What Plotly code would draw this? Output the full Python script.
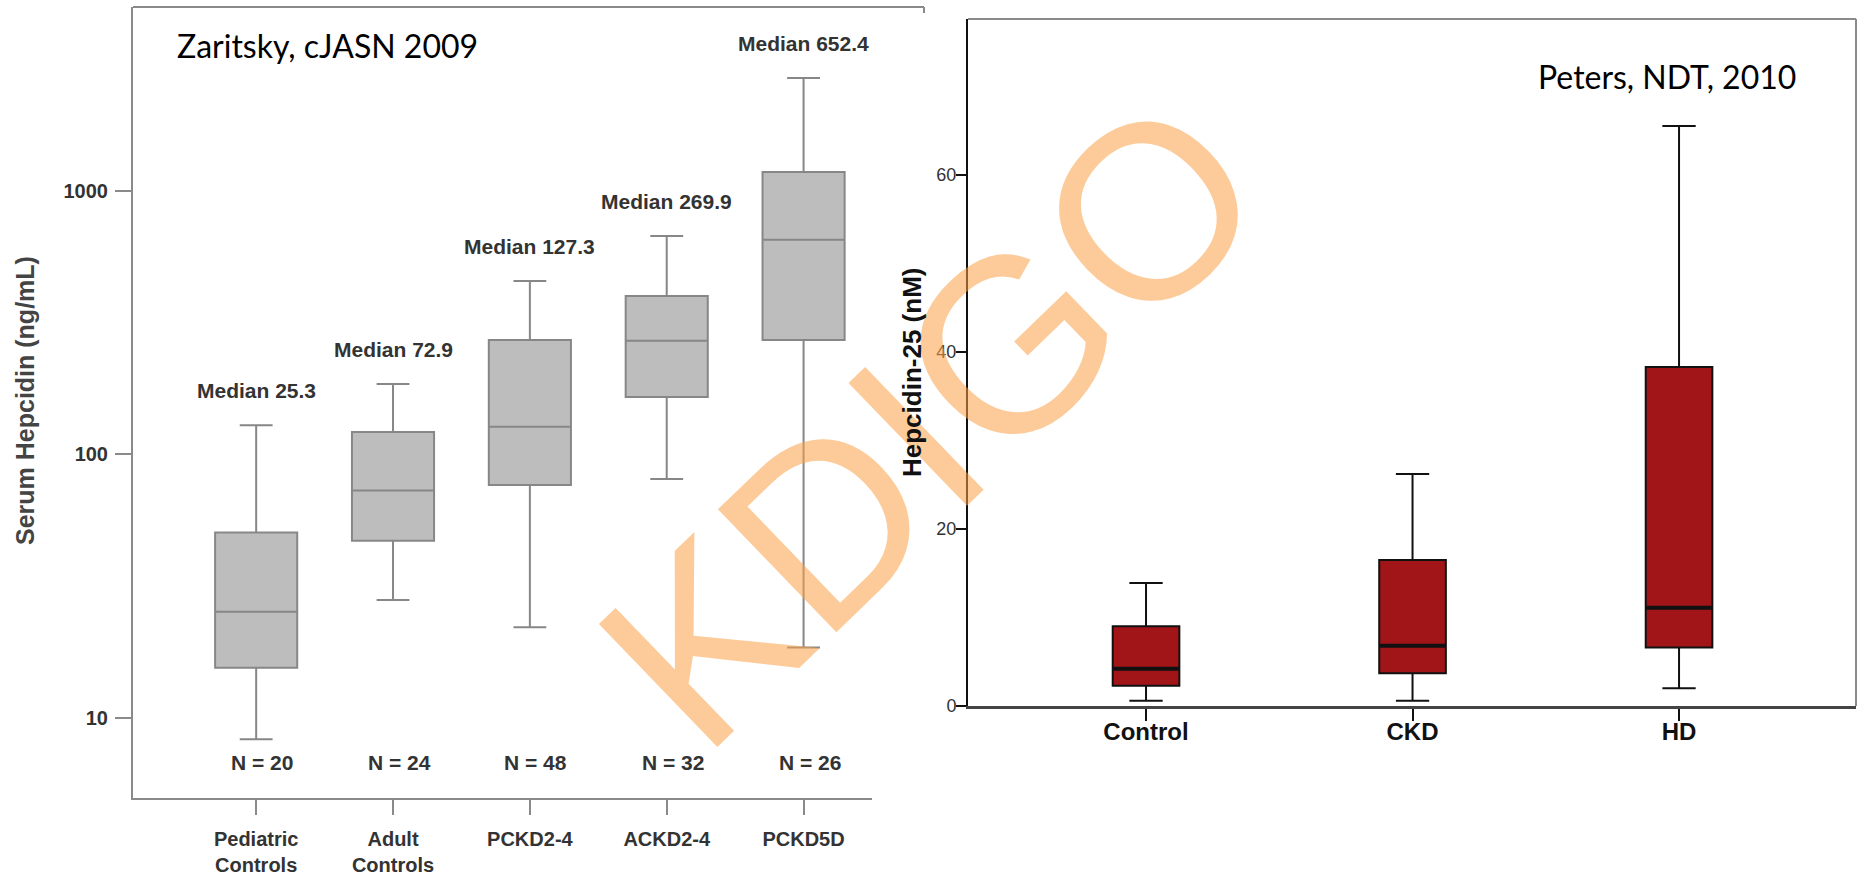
import math
import plotly.graph_objects as go

W, H = 1858, 878

# ---------------- Left panel data (Zaritsky, cJASN 2009) ----------------
z_categories = ["Pediatric<br>Controls", "Adult<br>Controls", "PCKD2-4", "ACKD2-4", "PCKD5D"]
z_lower = [8.3, 28.0, 22.1, 80.7, 18.5]
z_q1 = [15.5, 47.0, 76.6, 165.0, 272.0]
z_median = [25.3, 72.9, 127.3, 269.9, 652.4]
z_q3 = [50.5, 121.6, 272.0, 399.0, 1181.0]
z_upper = [129.0, 185.0, 455.0, 674.0, 2685.0]
z_n = [20, 24, 48, 32, 26]
z_ticks = [10, 100, 1000]

# ---------------- Right panel data (Peters, NDT, 2010) ----------------
p_categories = ["Control", "CKD", "HD"]
p_lower = [0.6, 0.6, 2.0]
p_q1 = [2.3, 3.7, 6.6]
p_median = [4.2, 6.8, 11.1]
p_q3 = [9.0, 16.5, 38.3]
p_upper = [13.9, 26.2, 65.5]
p_ticks = [0, 20, 40, 60]

FONT = "Liberation Sans, Arial, sans-serif"
TITLE_FONT = "Lato, Carlito, Calibri, sans-serif"


def px_x(v):
    return v / W


def px_y(v):
    return 1 - v / H


fig = go.Figure()

fig.add_trace(go.Box(
    x=z_categories, q1=z_q1, median=z_median, q3=z_q3,
    lowerfence=z_lower, upperfence=z_upper,
    width=0.6, whiskerwidth=0.4, boxpoints=False,
    fillcolor="#bdbdbd", line=dict(color="#878787", width=2),
    xaxis="x", yaxis="y", showlegend=False, hoverinfo="skip"))

fig.add_trace(go.Box(
    x=p_categories, q1=p_q1, median=p_median, q3=p_q3,
    lowerfence=p_lower, upperfence=p_upper,
    width=0.25, whiskerwidth=0.5, boxpoints=False,
    fillcolor="#a11519", line=dict(color="#111111", width=2),
    xaxis="x2", yaxis="y2", showlegend=False, hoverinfo="skip"))

# thick median bars for the right panel
fig.add_trace(go.Box(
    x=p_categories, q1=p_median, median=p_median, q3=p_median,
    lowerfence=p_median, upperfence=p_median,
    width=0.25, whiskerwidth=0, boxpoints=False,
    fillcolor="rgba(0,0,0,0)", line=dict(color="#111111", width=4),
    xaxis="x2", yaxis="y2", showlegend=False, hoverinfo="skip"))

fig.update_layout(
    width=W, height=H,
    margin=dict(l=0, r=0, t=0, b=0),
    paper_bgcolor="white", plot_bgcolor="rgba(0,0,0,0)",
    boxmode="overlay",
    xaxis=dict(
        domain=[px_x(133), px_x(872)], anchor="y", automargin=False,
        type="category", range=[-0.9, 4.5],
        showline=True, linecolor="#8a8a8a", linewidth=2,
        ticks="outside", ticklen=15, tickwidth=2, tickcolor="#8a8a8a",
        ticklabelstandoff=7,
        tickfont=dict(family=FONT, size=20, color="#333333", weight="bold"),
        showgrid=False, zeroline=False, fixedrange=True),
    yaxis=dict(
        domain=[px_y(798), px_y(7)], anchor="x", automargin=False,
        type="log", range=[0.696, 3.698],
        tickvals=z_ticks, ticktext=[str(t) for t in z_ticks],
        showline=True, linecolor="#8a8a8a", linewidth=2,
        ticks="outside", ticklen=16, tickwidth=2, tickcolor="#8a8a8a",
        ticklabelstandoff=3,
        tickfont=dict(family=FONT, size=20, color="#333333", weight="bold"),
        showgrid=False, zeroline=False, fixedrange=True),
    xaxis2=dict(
        domain=[px_x(968), px_x(1856)], anchor="y2", automargin=False,
        type="category", range=[-0.668, 2.664],
        showline=True, linecolor="#444444", linewidth=3,
        ticks="outside", ticklen=12, tickwidth=2, tickcolor="#111111",
        ticklabelstandoff=-10,
        tickfont=dict(family=FONT, size=24, color="#111111", weight="bold"),
        showgrid=False, zeroline=False, fixedrange=True),
    yaxis2=dict(
        domain=[px_y(706), px_y(19)], anchor="x2", automargin=False,
        range=[0, 77.6],
        tickvals=p_ticks,
        showline=True, linecolor="#111111", linewidth=2,
        ticks="outside", ticklen=10, tickwidth=2, tickcolor="#111111",
        ticklabelstandoff=-4,
        tickfont=dict(family=FONT, size=18, color="#333333"),
        showgrid=False, zeroline=False, fixedrange=True),
)

shapes = [
    # left panel top border with small corner at right
    dict(type="line", xref="paper", yref="paper", x0=px_x(133), x1=px_x(924),
         y0=px_y(7), y1=px_y(7), line=dict(color="#8a8a8a", width=2)),
    dict(type="line", xref="paper", yref="paper", x0=px_x(924), x1=px_x(924),
         y0=px_y(7), y1=px_y(13), line=dict(color="#8a8a8a", width=2)),
    # right panel top and right borders
    dict(type="line", xref="paper", yref="paper", x0=px_x(968), x1=px_x(1856),
         y0=px_y(19), y1=px_y(19), line=dict(color="#8a8a8a", width=2)),
    dict(type="line", xref="paper", yref="paper", x0=px_x(1856), x1=px_x(1856),
         y0=px_y(19), y1=px_y(706), line=dict(color="#8a8a8a", width=2)),
]

annotations = []
# watermark
annotations.append(dict(
    text="KDIGO", xref="paper", yref="paper", x=px_x(930), y=px_y(422),
    xanchor="center", yanchor="middle", showarrow=False, textangle=-44,
    font=dict(family=FONT, size=248, color="rgba(250,160,70,0.55)")))

# median labels and N labels (left)
for cat, med, up, n in zip(z_categories, z_median, z_upper, z_n):
    annotations.append(dict(
        text=f"Median {med}", x=cat, y=math.log10(up), xref="x", yref="y",
        xanchor="center", yanchor="bottom", yshift=21, showarrow=False,
        font=dict(family=FONT, size=21, color="#333333", weight="bold")))
    annotations.append(dict(
        text=f"N = {n}", x=cat, y=math.log10(6.75), xref="x", yref="y",
        xanchor="center", yanchor="middle", xshift=6, showarrow=False,
        font=dict(family=FONT, size=21, color="#333333", weight="bold")))

# axis titles
annotations.append(dict(
    text="Serum Hepcidin (ng/mL)", xref="paper", yref="paper",
    x=px_x(25), y=px_y(401), xanchor="center", yanchor="middle",
    textangle=-90, showarrow=False,
    font=dict(family=FONT, size=25, color="#444444", weight="bold")))
annotations.append(dict(
    text="Hepcidin-25 (nM)", xref="paper", yref="paper",
    x=px_x(912), y=px_y(373), xanchor="center", yanchor="middle",
    textangle=-90, showarrow=False,
    font=dict(family=FONT, size=26, color="#111111", weight="bold")))

# panel source labels
annotations.append(dict(
    text="Zaritsky, cJASN 2009", xref="paper", yref="paper",
    x=px_x(175), y=px_y(45), xanchor="left", yanchor="middle", showarrow=False,
    font=dict(family=TITLE_FONT, size=32, color="#000000")))
annotations.append(dict(
    text="Peters, NDT, 2010", xref="paper", yref="paper",
    x=px_x(1798), y=px_y(77), xanchor="right", yanchor="middle", showarrow=False,
    font=dict(family=TITLE_FONT, size=32, color="#000000")))

fig.update_layout(shapes=shapes, annotations=annotations)

fig.write_html(
    "out.html",
    config={"displayModeBar": False},
    post_script="document.body.style.margin='0';document.body.style.overflow='hidden';",
)
